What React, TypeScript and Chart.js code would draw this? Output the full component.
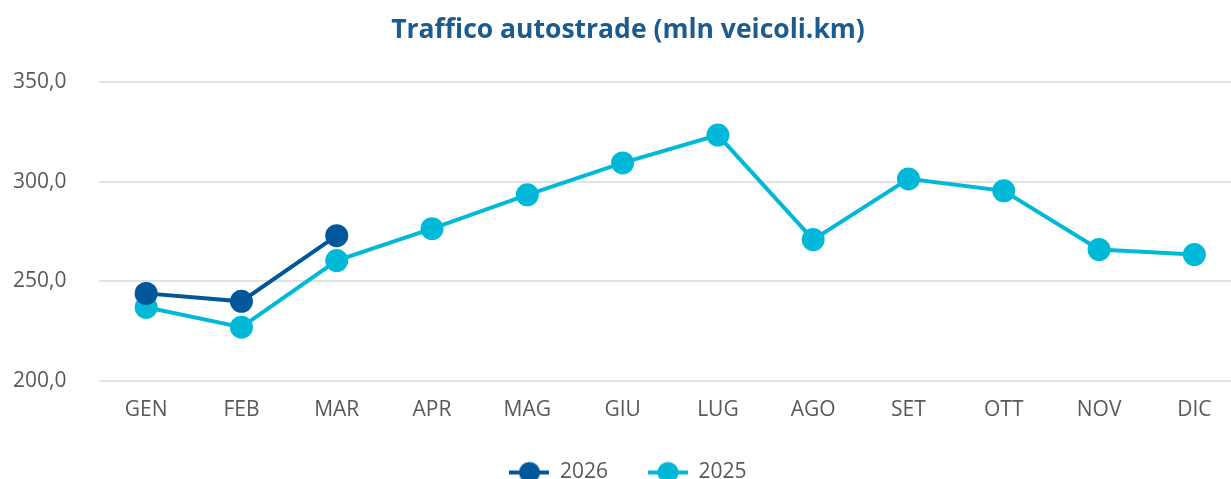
import React, { useEffect, useRef } from "react";
import { Chart, registerables } from "chart.js";

Chart.register(...registerables);

const categories = ["GEN", "FEB", "MAR", "APR", "MAG", "GIU", "LUG", "AGO", "SET", "OTT", "NOV", "DIC"];
const values2026 = [244, 240, 273, null, null, null, null, null, null, null, null, null];
const values2025 = [237, 227, 260.5, 276.5, 293.5, 309.5, 323.5, 271, 301.5, 295.5, 266, 263.5];
const yTicks = [200, 250, 300, 350];

const DARK = "#00579a";
const LIGHT = "#00b9d9";
const FONT = "'Open Sans', sans-serif";

function legendIcon(color: string) {
  const c = document.createElement("canvas");
  c.width = 40;
  c.height = 24;
  const ctx = c.getContext("2d")!;
  ctx.strokeStyle = color;
  ctx.lineWidth = 4;
  ctx.beginPath();
  ctx.moveTo(0, 12);
  ctx.lineTo(40, 12);
  ctx.stroke();
  ctx.fillStyle = color;
  ctx.beginPath();
  ctx.arc(20, 12, 10.5, 0, Math.PI * 2);
  ctx.fill();
  return c;
}

export default function App() {
  const ref = useRef<HTMLCanvasElement>(null);
  useEffect(() => {
    const icon26 = legendIcon(DARK);
    const icon25 = legendIcon(LIGHT);
    const chart = new Chart(ref.current!, {
      type: "line",
      data: {
        labels: categories,
        datasets: [
          {
            label: "2026",
            data: values2026,
            borderColor: DARK,
            backgroundColor: DARK,
            borderWidth: 4,
            pointRadius: 11.5,
            pointHoverRadius: 11.5,
            pointBorderWidth: 0,
            pointStyle: "circle",
            tension: 0,
          },
          {
            label: "2025",
            data: values2025,
            borderColor: LIGHT,
            backgroundColor: LIGHT,
            borderWidth: 4,
            pointRadius: 11.5,
            pointHoverRadius: 11.5,
            pointBorderWidth: 0,
            pointStyle: "circle",
            tension: 0,
          },
        ],
      },
      options: {
        animation: false,
        responsive: false,
        maintainAspectRatio: false,
        layout: { padding: { left: 14, right: 14, top: 0, bottom: 0 } },
        plugins: {
          title: {
            display: true,
            text: "Traffico autostrade (mln veicoli.km)",
            color: "#1b5b8e",
            font: { family: FONT, size: 26.5, weight: "bold" },
            padding: { top: 15, bottom: 35.5 },
          },
          legend: {
            display: true,
            position: "bottom",
            labels: {
              usePointStyle: true,
              pointStyleWidth: 40,
              color: "#595959",
              font: { family: FONT, size: 21 },
              padding: 40,
              generateLabels: (ch: any) =>
                ch.data.datasets.map((ds: any, i: number) => ({
                  text: ds.label,
                  fillStyle: ds.borderColor,
                  strokeStyle: ds.borderColor,
                  pointStyle: i === 0 ? icon26 : icon25,
                  datasetIndex: i,
                  hidden: false,
                  lineWidth: 0,
                  fontColor: "#595959",
                })),
            },
          },
          tooltip: { enabled: false },
        },
        scales: {
          x: {
            offset: true,
            grid: { display: false, drawTicks: false },
            border: { display: false },
            ticks: { color: "#595959", font: { family: FONT, size: 21 }, padding: 16 },
            afterFit: (axis: any) => {
              axis.height = 41;
            },
          },
          y: {
            min: 200,
            max: 350,
            afterBuildTicks: (axis: any) => {
              axis.ticks = yTicks.map((v) => ({ value: v }));
            },
            afterFit: (axis: any) => {
              axis.width = 84.5;
            },
            grid: { color: "#e3e3e3", lineWidth: 2, drawTicks: false },
            border: { display: false },
            ticks: {
              color: "#595959",
              font: { family: FONT, size: 21 },
              padding: 32,
              callback: (v: any) => Number(v).toFixed(1).replace(".", ","),
            },
          },
        },
      },
    });
    return () => chart.destroy();
  }, []);
  return (
    <div style={{ position: "fixed", left: 0, top: 0, width: 1231, height: 479, overflow: "hidden", background: "#fff" }}>
      <canvas ref={ref} width={1256} height={493} style={{ display: "block", width: 1256, height: 493 }} />
    </div>
  );
}
